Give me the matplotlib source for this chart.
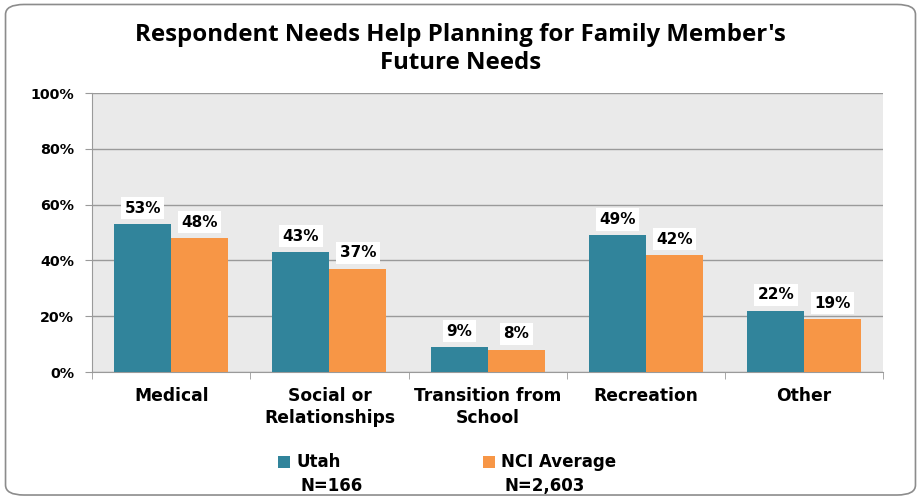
import matplotlib.pyplot as plt
import numpy as np
from matplotlib.patches import FancyBboxPatch, Rectangle
from matplotlib.ticker import FuncFormatter

plt.rcParams["font.family"] = ["DejaVu Sans"]

categories = ["Medical", "Social or\nRelationships", "Transition from\nSchool", "Recreation", "Other"]
utah = [53, 43, 9, 49, 22]
nci = [48, 37, 8, 42, 19]
series_names = ["Utah", "NCI Average"]
series_n = ["N=166", "N=2,603"]
colors = ["#31849B", "#F79646"]

fig = plt.figure(figsize=(9.21, 4.98), dpi=100)
ax = fig.add_axes([0.1, 0.253, 0.859, 0.56])

x = np.arange(len(categories))
w = 0.36
for vals, off, col in [(utah, -w / 2, colors[0]), (nci, w / 2, colors[1])]:
    bars = ax.bar(x + off, vals, w, color=col, zorder=3)
    for b, v in zip(bars, vals):
        ax.text(b.get_x() + b.get_width() / 2, v + 3, f"{v}%", ha="center", va="bottom",
                fontsize=11, fontweight="bold", zorder=4,
                bbox=dict(facecolor="white", edgecolor="none", pad=2.5))

ax.set_facecolor("#EAEAEA")
ax.set_ylim(0, 100)
ax.set_xlim(-0.5, len(categories) - 0.5)
ax.set_yticks(range(0, 101, 20))
ax.yaxis.set_major_formatter(FuncFormatter(lambda v, p: f"{int(v)}%"))
ax.grid(axis="y", color="#9A9A9A", linewidth=1, zorder=1)
ax.set_xticks(x)
ax.set_xticklabels(categories, fontsize=12.3, fontweight="bold", linespacing=1.25)
ax.set_xticks(np.arange(-0.5, len(categories), 1), minor=True)
ax.tick_params(axis="x", which="major", length=0, pad=11)
ax.tick_params(axis="x", which="minor", length=5, color="#9A9A9A")
ax.tick_params(axis="y", length=5, color="#9A9A9A", labelsize=10.3, pad=8)
for lbl in ax.get_yticklabels():
    lbl.set_fontweight("bold")
for s in ["top", "right"]:
    ax.spines[s].set_visible(False)
for s in ["left", "bottom"]:
    ax.spines[s].set_color("#9A9A9A")

fig.text(0.5, 0.902, "Respondent Needs Help Planning for Family Member's\nFuture Needs",
         ha="center", va="center", fontsize=17.3, fontweight="bold", linespacing=1.25,
         family=["Open Sans", "DejaVu Sans"])

# legend
for i, (name, n, col) in enumerate(zip(series_names, series_n, colors)):
    lx = 0.302 + i * 0.222
    fig.patches.append(Rectangle((lx, 0.06), 0.013, 0.024, transform=fig.transFigure,
                                 facecolor=col, edgecolor="none"))
    fig.text(lx + 0.02, 0.072, name, fontsize=12, fontweight="bold", va="center")
    fig.text(lx + 0.024, 0.024, n, fontsize=12, fontweight="bold", va="center")

fig.patches.append(FancyBboxPatch((0.006, 0.006), 0.988, 0.985, transform=fig.transFigure,
                                  boxstyle="round,pad=0,rounding_size=0.02",
                                  facecolor="none", edgecolor="#8C8C8C", linewidth=1.2))

fig.savefig("out.png", dpi=100)
